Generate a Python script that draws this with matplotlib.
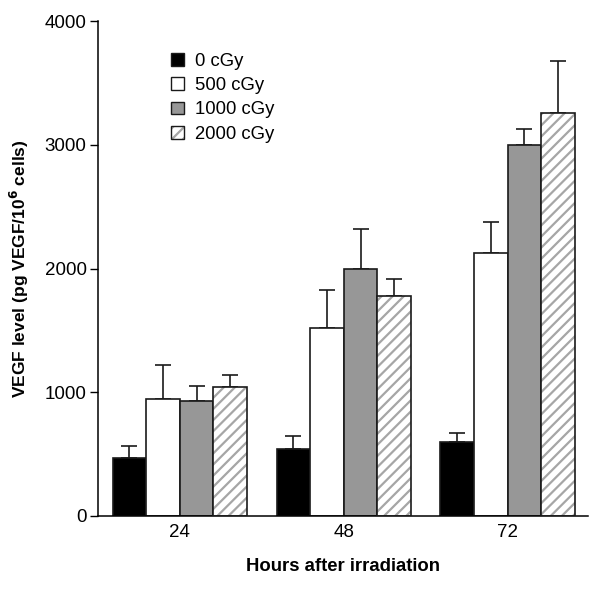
import numpy as np
import matplotlib
matplotlib.use("Agg")
import matplotlib.pyplot as plt
from matplotlib.patches import Patch
from matplotlib.legend_handler import HandlerTuple

plt.rcParams["font.family"] = ["Liberation Sans", "DejaVu Sans"]
plt.rcParams["hatch.linewidth"] = 1.6

# data (mean and upper error bar)
hours = ["24", "48", "72"]
doses = ["0 cGy", "500 cGy", "1000 cGy", "2000 cGy"]
vegf_0 = [470, 539, 600]
vegf_500 = [943, 1522, 2125]
vegf_1000 = [927, 1995, 3000]
vegf_2000 = [1042, 1782, 3258]
err_0 = [97, 108, 68]
err_500 = [275, 304, 253]
err_1000 = [126, 325, 125]
err_2000 = [97, 130, 422]

means = [vegf_0, vegf_500, vegf_1000, vegf_2000]
errs = [err_0, err_500, err_1000, err_2000]
fills = ["black", "white", "#979797", "white"]

fig = plt.figure(figsize=(6, 5.89), dpi=100)
ax = fig.add_axes([0.163, 0.124, 0.817, 0.84])

x = np.arange(len(hours))
width = 0.205
handles = []
for i in range(4):
    pos = x + (i - 1.5) * width
    if i == 3:
        ax.bar(pos, means[i], width, color="white", edgecolor="#a6a6a6",
               hatch="///", linewidth=0, zorder=2)
        ax.bar(pos, means[i], width, fill=False, edgecolor="#1a1a1a",
               linewidth=1.2, zorder=3)
        h = (Patch(facecolor="white", edgecolor="#a6a6a6", hatch="///", linewidth=0),
             Patch(fill=False, edgecolor="#1a1a1a", linewidth=1.0))
    else:
        ax.bar(pos, means[i], width, color=fills[i], edgecolor="#1a1a1a",
               linewidth=1.2, zorder=2)
        h = Patch(facecolor=fills[i], edgecolor="#1a1a1a", linewidth=1.0)
    handles.append(h)
    ax.errorbar(pos, means[i], yerr=[np.zeros(3), errs[i]], fmt="none",
                ecolor="#1a1a1a", elinewidth=1.2, capsize=6, capthick=1.2, zorder=1)

ax.set_xlim(-0.5, 2.49)
ax.set_ylim(0, 4000)
ax.set_yticks([0, 1000, 2000, 3000, 4000])
ax.set_xticks(x)
ax.set_xticklabels(hours)
ax.tick_params(axis="x", length=0, labelsize=13.5, pad=6)
ax.tick_params(axis="y", length=6, width=1, labelsize=13.5, pad=2)
for s in ["top", "right"]:
    ax.spines[s].set_visible(False)
for s in ["left", "bottom"]:
    ax.spines[s].set_linewidth(1.1)

ax.set_ylabel("VEGF level (pg VEGF/10$^\\mathbf{6}$ cells)", fontsize=12.5,
              fontweight="bold", labelpad=10)
ax.set_xlabel("Hours after irradiation", fontsize=13.3, fontweight="bold", labelpad=12)

ax.legend(handles, doses, loc="upper left", bbox_to_anchor=(0.115, 0.97),
          frameon=False, fontsize=13.3, handlelength=0.7, handleheight=0.7,
          handletextpad=0.6, labelspacing=0.4,
          handler_map={tuple: HandlerTuple(ndivide=1)})

fig.savefig("out.png", dpi=100)
